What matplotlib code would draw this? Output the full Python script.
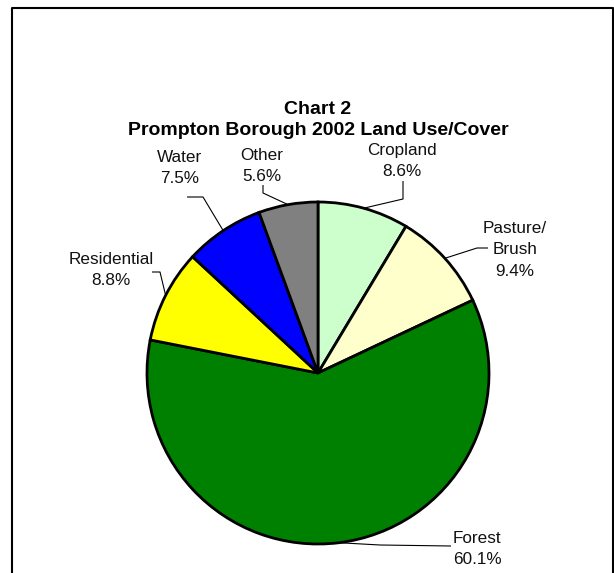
import matplotlib
matplotlib.use("Agg")
import matplotlib.pyplot as plt
import numpy as np

plt.rcParams['font.family'] = ['Liberation Sans', 'DejaVu Sans']

categories = ["Cropland", "Pasture/\nBrush", "Forest", "Residential", "Water", "Other"]
values = [8.6, 9.4, 60.1, 8.8, 7.5, 5.6]
colors = ["#CCFFCC", "#FFFFCC", "#008000", "#FFFF00", "#0000FF", "#808080"]
title = "Chart 2\nPrompton Borough 2002 Land Use/Cover"

W, H = 614, 573
fig = plt.figure(figsize=(W / 100, H / 100), dpi=100)
ax = fig.add_axes([0, 0, 1, 1])

def Y(y):
    return H - y

cx, cy, r = 318, 373, 171
wedges, _ = ax.pie(values, colors=colors, startangle=90, counterclock=False,
                   center=(cx, Y(cy)), radius=r, frame=True,
                   wedgeprops=dict(edgecolor="black", linewidth=2))
ax.set_xlim(0, W)
ax.set_ylim(0, H)
ax.set_aspect("equal")
ax.set_axis_off()

# label text positions (pixel coords) and leader elbows
label_pos = [(402, 161, "center"), (515, 250, "center"), (453, 549, "left"),
             (111, 270, "center"), (180, 168, "center"), (262, 166, "center")]
leader_start = [(403, 181), (488, 248), (451, 546), (152, 272), (187, 197), (263, 185)]
leader_elbow = [(403, 199), (477, 248), (380, 545), (160, 272), (203, 197), (263, 193)]

for w, (lx, ly, ha), st, el, name, v in zip(wedges, label_pos, leader_start,
                                           leader_elbow, categories, values):
    ang = np.deg2rad((w.theta1 + w.theta2) / 2)
    ex = cx + r * np.cos(ang)
    ey = Y(cy) + r * np.sin(ang)
    ax.plot([st[0], el[0], ex], [Y(st[1]), Y(el[1]), ey], color="black", lw=0.8,
            solid_capstyle="butt")
    ax.text(lx, Y(ly), f"{name}\n{v:.1f}%", ha=ha, va="center", fontsize=12.3,
            linespacing=1.58, color="#111111")

ax.text(318, Y(120), title, ha="center", va="center", fontsize=14,
        fontweight="bold", linespacing=1.25)

# outer frame (top, left, right)
ax.plot([11.5, 11.5, 612.5, 612.5], [0, Y(7.5), Y(7.5), 0], color="black", lw=1.5)

fig.savefig("out.png", dpi=100)
